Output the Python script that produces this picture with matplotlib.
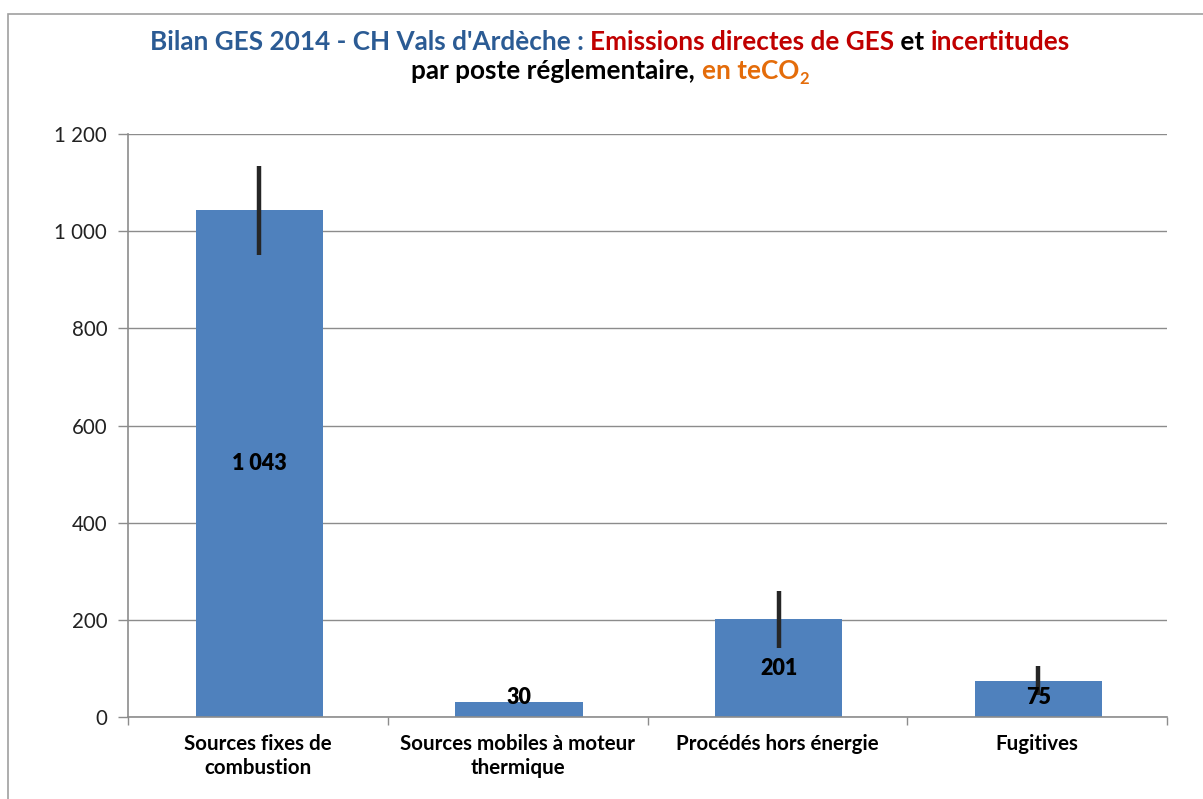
import matplotlib
matplotlib.use("Agg")
import matplotlib.pyplot as plt
from matplotlib.ticker import FuncFormatter, FixedLocator
from matplotlib.patches import Rectangle
import numpy as np

plt.rcParams['font.family'] = ['Lato', 'DejaVu Sans']

# data
categories = ["Sources fixes de\ncombustion", "Sources mobiles à moteur\nthermique",
              "Procédés hors énergie", "Fugitives"]
values = [1043, 30, 201, 75]
uncert = [92, 0, 58, 30]
value_labels = ["1 043", "30", "201", "75"]

bar_color = "#4F81BD"
grid_color = "#8C8C8C"

fig = plt.figure(figsize=(12.03, 7.99), dpi=100)
ax = fig.add_axes([128/1203, 82/799, (1167-128)/1203, (717-134)/799])

x = np.arange(len(values))
ax.bar(x + 0.005, values, width=0.49, color=bar_color, zorder=2)
ax.errorbar(x + 0.005, values, yerr=uncert, fmt='none', ecolor='#262626', elinewidth=3.2, capsize=0, zorder=3)

for xi, v, lab in zip(x, values, value_labels):
    ax.text(xi + 0.005, max(v / 2, 40), lab, ha='center', va='center', fontsize=15.5,
            fontweight='heavy', color='black', zorder=4)

ax.set_xlim(-0.5, len(values) - 0.5)
ax.set_ylim(0, 1200)
ax.set_yticks(np.arange(0, 1201, 200))
ax.yaxis.set_major_formatter(FuncFormatter(lambda v, p: f"{int(v):,}".replace(",", " ")))
ax.grid(axis='y', color=grid_color, linewidth=1, zorder=0)

ax.set_xticks(x)
ax.set_xticklabels(categories, fontsize=14.8, fontweight='bold', color='black', linespacing=1.25)
ax.xaxis.set_minor_locator(FixedLocator(np.arange(-0.5, len(values), 1)))
ax.tick_params(axis='x', which='major', length=0, pad=12)
ax.tick_params(axis='x', which='minor', length=6, color=grid_color, width=1)
ax.tick_params(axis='y', length=7, color=grid_color, width=1, labelsize=14.8, labelcolor='#222222', pad=8)

for s in ['top', 'right']:
    ax.spines[s].set_visible(False)
for s in ['left', 'bottom']:
    ax.spines[s].set_color(grid_color)
    ax.spines[s].set_linewidth(1.2)

# outer frame
fig.patches.append(Rectangle((8/1203, -0.05), 1.1, 1 - 14/799 + 0.05, transform=fig.transFigure,
                             fill=False, edgecolor='#A0A0A0', linewidth=1.2))

# multi-coloured title
def colored_line(pieces, y):
    r = fig.canvas.get_renderer()
    texts = []
    widths = []
    for s, c, sz, dy in pieces:
        t = fig.text(0, y + dy, s, color=c, fontsize=sz, fontweight='bold', va='baseline', ha='left')
        bb = t.get_window_extent(renderer=r)
        texts.append(t)
        widths.append(bb.width / fig.bbox.width)
    total = sum(widths)
    x0 = 610/1203 - total / 2
    for t, w in zip(texts, widths):
        t.set_x(x0)
        x0 += w

blue = "#2B5B94"
red = "#C00000"
orange = "#E46C0A"
ts = 18.8
colored_line([("Bilan GES 2014 - CH Vals d'Ardèche : ", blue, ts, 0),
              ("Emissions directes de GES", red, ts, 0),
              (" et ", "black", ts, 0),
              ("incertitudes", red, ts, 0)], 1 - 50/799)
colored_line([("par poste réglementaire, ", "black", ts, 0),
              ("en teCO", orange, ts, 0),
              ("2", orange, 12, -5/799)], 1 - 79/799)

fig.savefig("out.png", dpi=100)
